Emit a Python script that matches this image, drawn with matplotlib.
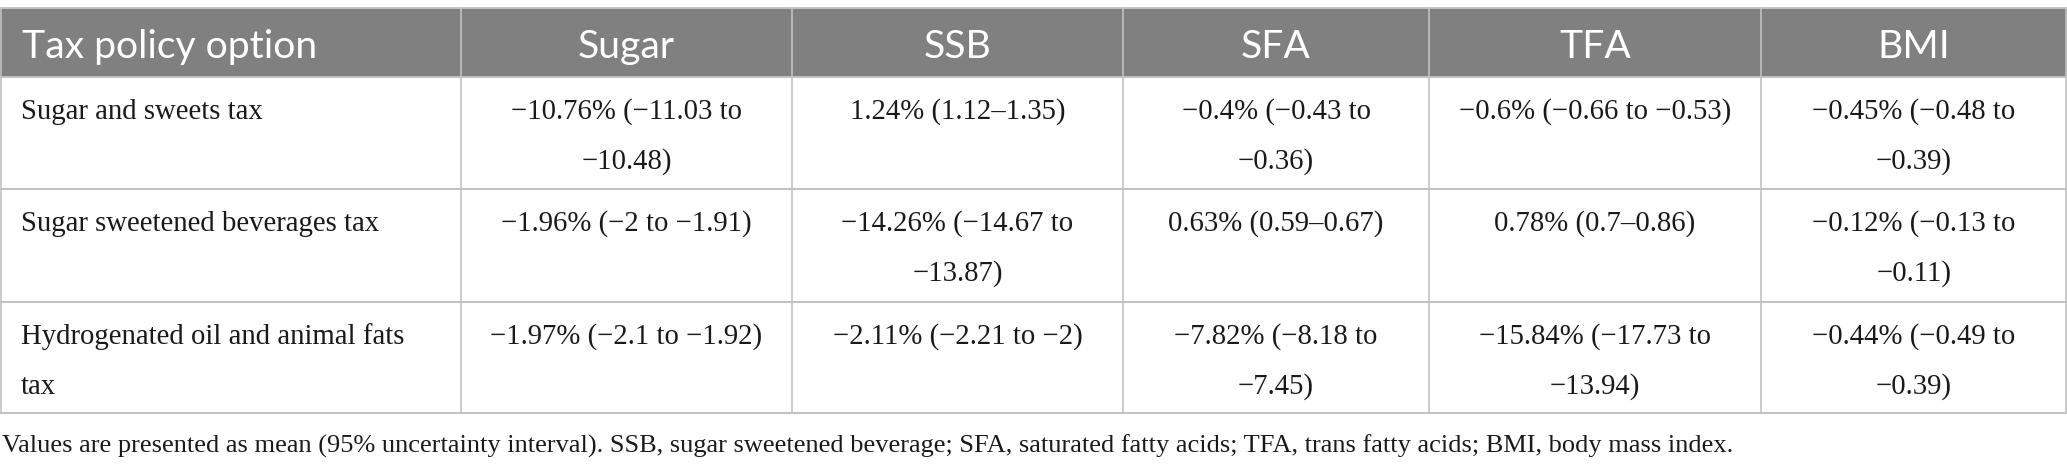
import matplotlib.pyplot as plt
from matplotlib.patches import Rectangle

# table content
columns = ["Tax policy option", "Sugar", "SSB", "SFA", "TFA", "BMI"]
policies = ["Sugar and sweets tax",
            "Sugar sweetened beverages tax",
            "Hydrogenated oil and animal fats\ntax"]
sugar = ["−10.76% (−11.03 to\n−10.48)", "−1.96% (−2 to −1.91)", "−1.97% (−2.1 to −1.92)"]
ssb = ["1.24% (1.12–1.35)", "−14.26% (−14.67 to\n−13.87)", "−2.11% (−2.21 to −2)"]
sfa = ["−0.4% (−0.43 to\n−0.36)", "0.63% (0.59–0.67)", "−7.82% (−8.18 to\n−7.45)"]
tfa = ["−0.6% (−0.66 to −0.53)", "0.78% (0.7–0.86)", "−15.84% (−17.73 to\n−13.94)"]
bmi = ["−0.45% (−0.48 to\n−0.39)", "−0.12% (−0.13 to\n−0.11)", "−0.44% (−0.49 to\n−0.39)"]
footnote = ("Values are presented as mean (95% uncertainty interval). SSB, sugar sweetened "
            "beverage; SFA, saturated fatty acids; TFA, trans fatty acids; BMI, body mass index.")

# layout in pixels
W, H = 2067, 470
col_edges = [0, 461, 792, 1123, 1429, 1761, 2067]
row_edges = [8, 77, 189, 302, 413]
line_col = "#c2c2c2"
head_col = "#808080"

fig = plt.figure(figsize=(W / 100, H / 100), dpi=100)
ax = fig.add_axes([0, 0, 1, 1])
ax.set_xlim(0, W)
ax.set_ylim(H, 0)
ax.axis("off")

# header band
ax.add_patch(Rectangle((0, row_edges[0]), W, row_edges[1] - row_edges[0],
                       facecolor=head_col, edgecolor="none"))

# grid lines
for y in row_edges:
    ax.plot([0, W], [y, y], color=line_col, lw=1.4, solid_capstyle="butt")
for x in col_edges[1:-1] + [0.8, W - 0.8]:
    ax.plot([x, x], [row_edges[0], row_edges[-1]], color=line_col, lw=1.2)

# header text
for i, name in enumerate(columns):
    if i == 0:
        x, ha = col_edges[0] + 22, "left"
    else:
        x, ha = (col_edges[i] + col_edges[i + 1]) / 2, "center"
    ax.text(x, 58, name, ha=ha, va="baseline", color="white",
            fontsize=28.2, family="Lato")

# body cells
data_cols = [policies, sugar, ssb, sfa, tfa, bmi]
for r in range(len(policies)):
    top = row_edges[r + 1]
    for c, col in enumerate(data_cols):
        if c == 0:
            x, ha = col_edges[0] + 21, "left"
        else:
            x, ha = (col_edges[c] + col_edges[c + 1]) / 2, "center"
        for k, line in enumerate(col[r].split("\n")):
            ax.text(x, top + 42 + 50 * k, line, ha=ha, va="baseline",
                    color="#1a1a1a", fontsize=20.7, family="Liberation Serif")

ax.text(2, 453, footnote, ha="left", va="baseline", color="#1a1a1a",
        fontsize=19, family="Liberation Serif")

fig.savefig("out.png", dpi=100)
